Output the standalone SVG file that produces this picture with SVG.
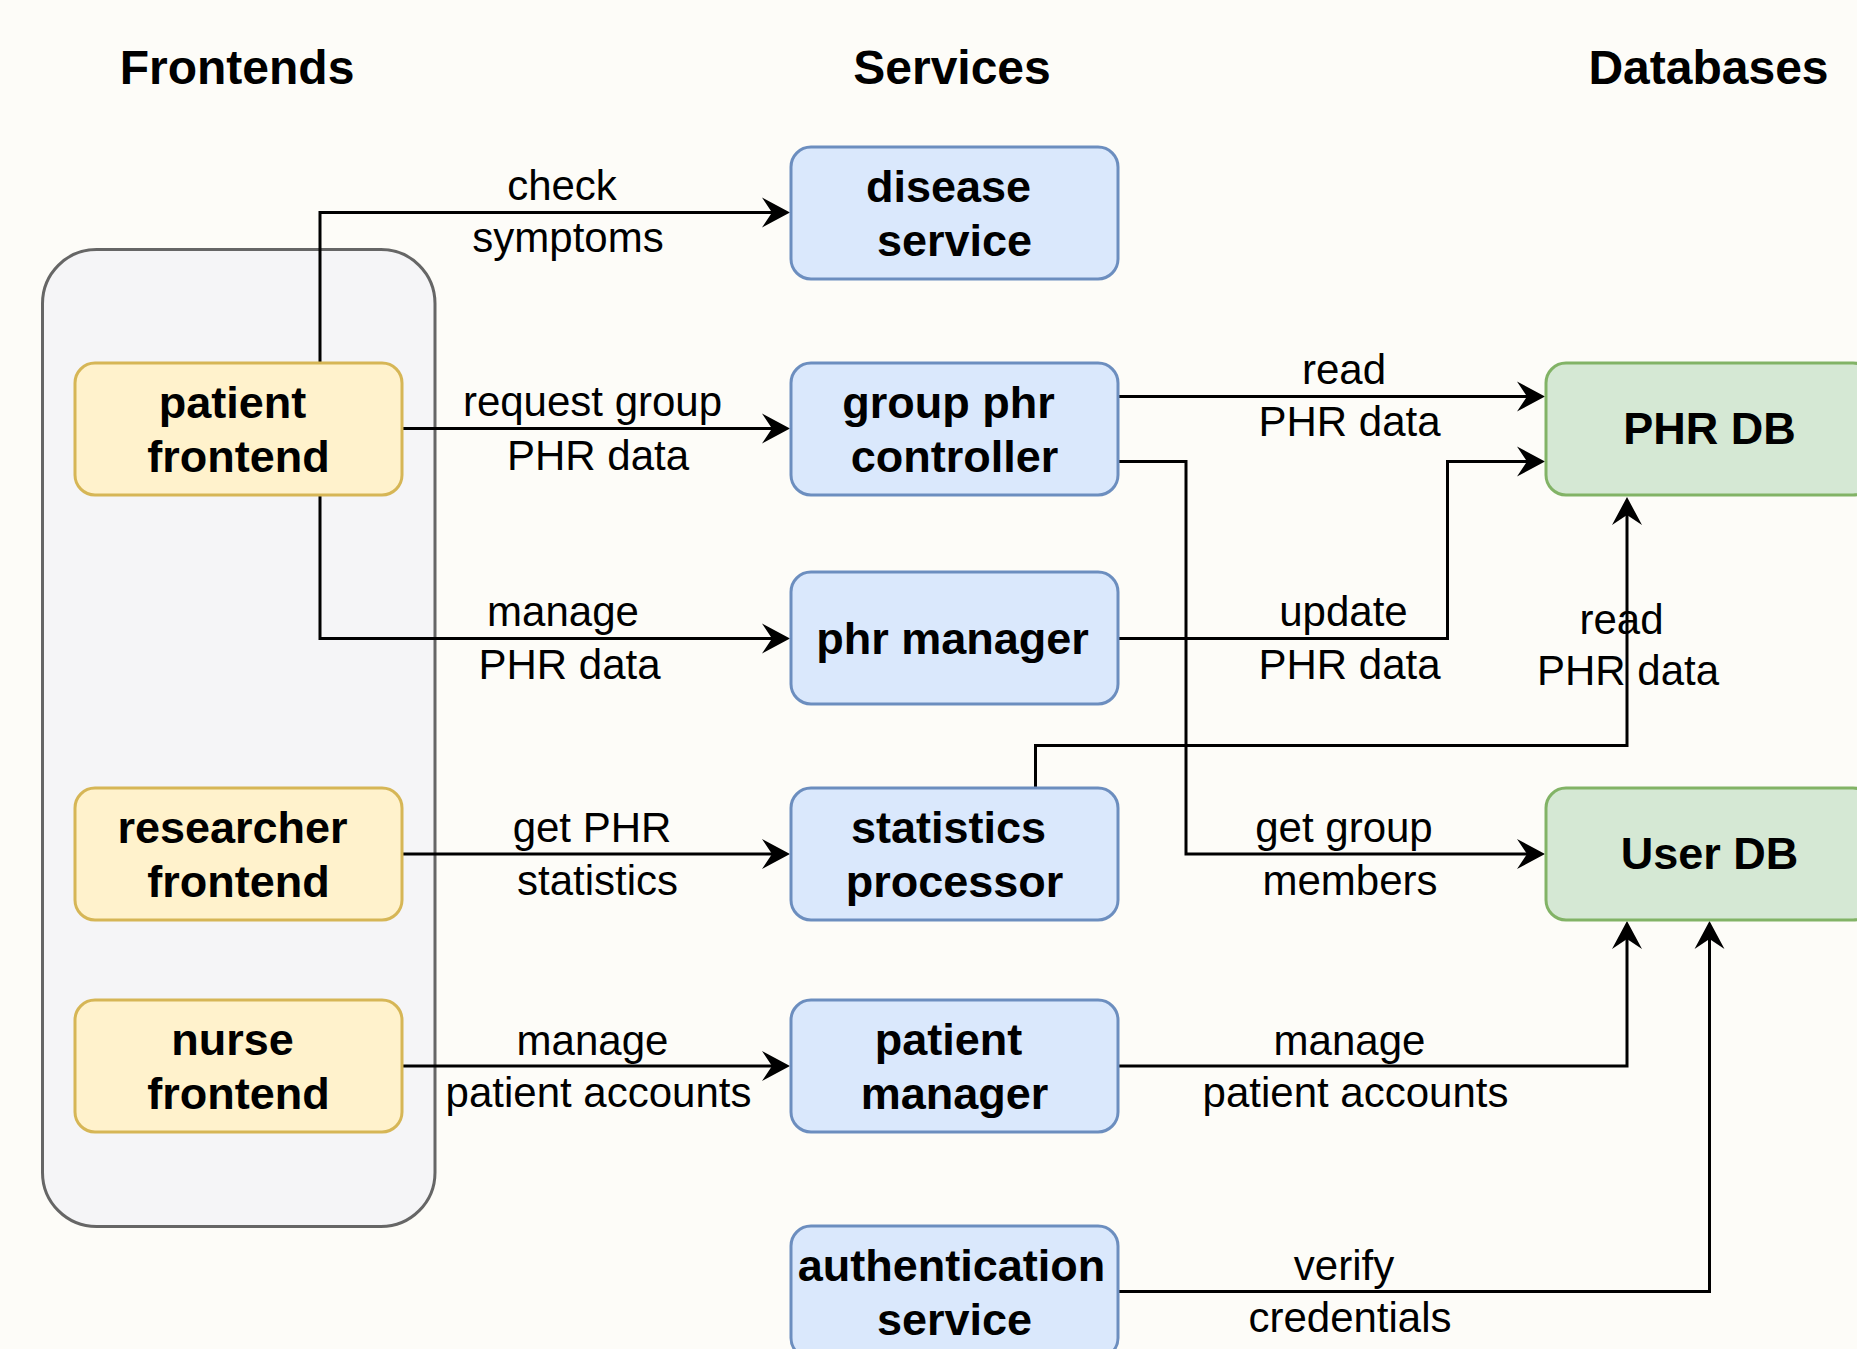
<svg xmlns="http://www.w3.org/2000/svg" width="1857" height="1349" viewBox="0 0 1857 1349">
  <defs>
    <style>
      .title { font-family: "Liberation Sans", Arial, Helvetica, sans-serif; font-size: 48px; font-weight: bold; fill: #000; text-anchor: middle; }
      .nlabel { font-family: "Liberation Sans", Arial, Helvetica, sans-serif; font-size: 45px; font-weight: bold; fill: #000; text-anchor: middle; }
      .elabel { font-family: "Liberation Sans", Arial, Helvetica, sans-serif; font-size: 42px; fill: #000; text-anchor: middle; }
      .frontend { fill: #fff2cc; stroke: #d6b656; stroke-width: 3; }
      .service { fill: #dae8fc; stroke: #6c8ebf; stroke-width: 3; }
      .db { fill: #d5e8d4; stroke: #82b366; stroke-width: 3; }
      .group { fill: #f5f5f7; stroke: #666666; stroke-width: 3; }
      .edge { fill: none; stroke: #000; stroke-width: 3; marker-end: url(#arrow); }
    </style>
    <!-- classic arrowhead; path ends at the notch, tip reaches 18px further -->
    <marker id="arrow" markerUnits="userSpaceOnUse" markerWidth="40" markerHeight="40" refX="0" refY="0" orient="auto" overflow="visible">
      <path d="M-10,-15 L18,0 L-10,15 L0,0 Z" fill="#000"/>
    </marker>
  </defs>

  <rect x="0" y="0" width="1857" height="1349" fill="#fdfcf8"/>

  <!-- column headings -->
  <g id="headings">
    <text class="title" x="237" y="83.5">Frontends</text>
    <text class="title" x="952" y="83.5">Services</text>
    <text class="title" x="1708.5" y="83.5">Databases</text>
  </g>

  <!-- frontend container -->
  <g id="frontend-group">
    <rect class="group" x="42.5" y="249.5" width="392.5" height="977" rx="54" ry="54"/>
  </g>

  <!-- connectors -->
  <g id="connectors">
    <path class="edge" d="M320,363 V212.5 H772"/>
    <path class="edge" d="M402,428.5 H772"/>
    <path class="edge" d="M320,495 V638.5 H772"/>
    <path class="edge" d="M402,854 H772"/>
    <path class="edge" d="M402,1066 H772"/>
    <path class="edge" d="M1118,396.5 H1527"/>
    <path class="edge" d="M1118,461.5 H1186 V854 H1527"/>
    <path class="edge" d="M1118,638.5 H1447.5 V461.5 H1527"/>
    <path class="edge" d="M1035.5,788 V745.5 H1627 V515"/>
    <path class="edge" d="M1118,1066 H1627 V939"/>
    <path class="edge" d="M1118,1291.5 H1709.5 V939"/>

    <g id="edge-labels">
      <text class="elabel" x="562" y="200">check</text>
      <text class="elabel" x="568" y="252">symptoms</text>

      <text class="elabel" x="592.5" y="416">request group</text>
      <text class="elabel" x="598" y="469.5">PHR data</text>

      <text class="elabel" x="563" y="625.5">manage</text>
      <text class="elabel" x="569.5" y="678.5">PHR data</text>

      <text class="elabel" x="592" y="842">get PHR</text>
      <text class="elabel" x="597.5" y="894.5">statistics</text>

      <text class="elabel" x="592.5" y="1054.5">manage</text>
      <text class="elabel" x="598.5" y="1107">patient accounts</text>

      <text class="elabel" x="1344" y="383.5">read</text>
      <text class="elabel" x="1349.5" y="436">PHR data</text>

      <text class="elabel" x="1343.5" y="625.5">update</text>
      <text class="elabel" x="1349.5" y="678.5">PHR data</text>

      <text class="elabel" x="1621.5" y="633.5">read</text>
      <text class="elabel" x="1628" y="684.5">PHR data</text>

      <text class="elabel" x="1344" y="842">get group</text>
      <text class="elabel" x="1350" y="894.5">members</text>

      <text class="elabel" x="1349.5" y="1054.5">manage</text>
      <text class="elabel" x="1355.5" y="1107">patient accounts</text>

      <text class="elabel" x="1344" y="1279.5">verify</text>
      <text class="elabel" x="1350" y="1331.5">credentials</text>
    </g>
  </g>

  <!-- frontends -->
  <g id="patient-frontend">
    <rect class="frontend" x="75" y="363" width="327" height="132" rx="20" ry="20"/>
    <text class="nlabel" x="232.5" y="417.5">patient</text>
    <text class="nlabel" x="238.5" y="471.5">frontend</text>
  </g>
  <g id="researcher-frontend">
    <rect class="frontend" x="75" y="788" width="327" height="132" rx="20" ry="20"/>
    <text class="nlabel" x="232.5" y="842.5">researcher</text>
    <text class="nlabel" x="238.5" y="896.5">frontend</text>
  </g>
  <g id="nurse-frontend">
    <rect class="frontend" x="75" y="1000" width="327" height="132" rx="20" ry="20"/>
    <text class="nlabel" x="232.5" y="1054.5">nurse</text>
    <text class="nlabel" x="238.5" y="1108.5">frontend</text>
  </g>

  <!-- services -->
  <g id="disease-service">
    <rect class="service" x="791" y="147" width="327" height="132" rx="20" ry="20"/>
    <text class="nlabel" x="948.5" y="201.5">disease</text>
    <text class="nlabel" x="954.5" y="255.5">service</text>
  </g>
  <g id="group-phr-controller">
    <rect class="service" x="791" y="363" width="327" height="132" rx="20" ry="20"/>
    <text class="nlabel" x="948.5" y="417.5">group phr</text>
    <text class="nlabel" x="954.5" y="471.5">controller</text>
  </g>
  <g id="phr-manager">
    <rect class="service" x="791" y="572" width="327" height="132" rx="20" ry="20"/>
    <text class="nlabel" x="952.5" y="653.5">phr manager</text>
  </g>
  <g id="statistics-processor">
    <rect class="service" x="791" y="788" width="327" height="132" rx="20" ry="20"/>
    <text class="nlabel" x="948.5" y="842.5">statistics</text>
    <text class="nlabel" x="954.5" y="896.5">processor</text>
  </g>
  <g id="patient-manager">
    <rect class="service" x="791" y="1000" width="327" height="132" rx="20" ry="20"/>
    <text class="nlabel" x="948.5" y="1054.5">patient</text>
    <text class="nlabel" x="954.5" y="1108.5">manager</text>
  </g>
  <g id="authentication-service">
    <rect class="service" x="791" y="1226" width="327" height="132" rx="20" ry="20"/>
    <text class="nlabel" x="951.5" y="1280.5">authentication</text>
    <text class="nlabel" x="954.5" y="1334.5">service</text>
  </g>

  <!-- databases -->
  <g id="phr-db">
    <rect class="db" x="1546" y="363" width="327" height="132" rx="20" ry="20"/>
    <text class="nlabel" x="1709.5" y="444">PHR DB</text>
  </g>
  <g id="user-db">
    <rect class="db" x="1546" y="788" width="327" height="132" rx="20" ry="20"/>
    <text class="nlabel" x="1709.5" y="869">User DB</text>
  </g>
</svg>
